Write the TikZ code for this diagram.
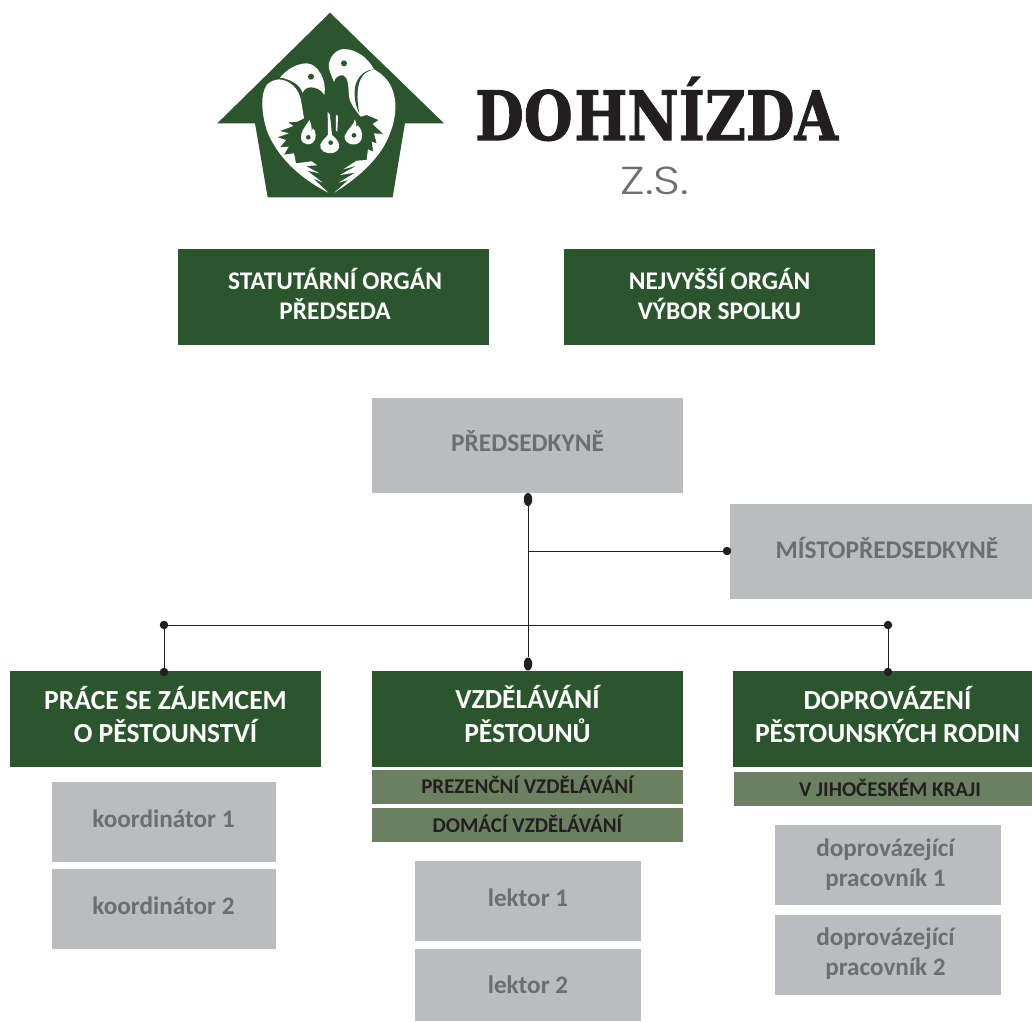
\documentclass[tikz,border=0pt]{standalone}
\usepackage{fontspec}
\setmainfont{Carlito}
\newfontfamily\slab{DejaVu Serif}[BoldFeatures={FakeBold=1.6}]
\newfontfamily\thinf{Poppins Light}
\definecolor{dgreen}{HTML}{2B552D}
\definecolor{mgreen}{HTML}{6B8060}
\definecolor{lgray}{HTML}{BBBCBF}
\definecolor{tgray}{HTML}{6D6E71}
\definecolor{ink}{HTML}{231F20}
\usetikzlibrary{shapes.geometric}
\newcommand\lifted[2]{\raisebox{#1}[\height][\depth]{\begin{tabular}{@{}c@{}}#2\end{tabular}}}
\tikzset{
 boxbase/.style={rectangle,inner sep=0pt,align=center,font=\bfseries\fontsize{25.4}{30}\selectfont},
 greenbox/.style={boxbase,fill=dgreen,text=white,minimum height=96pt,minimum width=311pt},
 headbox/.style={greenbox,font=\bfseries\fontsize{27.6}{33}\selectfont},
 graybox/.style={boxbase,fill=lgray,text=tgray,minimum height=95pt,minimum width=311pt},
 staffbox/.style={boxbase,fill=lgray,text=tgray,minimum height=80pt,minimum width=224pt,font=\bfseries\fontsize{25.2}{30}\selectfont},
 subbar/.style={boxbase,fill=mgreen,text=ink,minimum height=34pt,minimum width=311pt,font=\bfseries\fontsize{21}{24}\selectfont},
 dotn/.style={circle,fill=ink,inner sep=0pt,minimum size=8.5pt},
 dotv/.style={ellipse,fill=ink,inner sep=0pt,minimum width=8.5pt,minimum height=13pt},
 link/.style={draw=ink,line width=0.9pt},
}
\begin{document}
\begin{tikzpicture}[x=1pt,y=-1pt]
\useasboundingbox (0,0) rectangle (1032,1021);
% logo
\begin{scope}[shift={(200,0)},x=0.3333pt,y=-0.3333pt]
\fill[dgreen] (390,38) -- (732,370) -- (615,370) -- (578,592) -- (203,592) -- (165,370) -- (52,370) -- cycle;
% left head
\fill[white] (240,233) .. controls (262,205) and (295,190) .. (320,190)
 .. controls (352,190) and (382,240) .. (373,285)
 .. controls (365,268) and (345,262) .. (332,262)
 .. controls (322,262) and (312,268) .. (308,278)
 .. controls (300,255) and (275,238) .. (240,233) -- cycle;
% left lobe
\fill[white] (385,578) .. controls (300,535) and (230,470) .. (200,390)
 .. controls (185,340) and (180,285) .. (200,255)
 .. controls (210,244) and (225,239) .. (238,238)
 .. controls (272,242) and (295,265) .. (303,300)
 -- (312,355) -- (292,365) -- (264,367) -- (280,378) -- (240,393) -- (266,400) -- (232,412) -- (258,420) -- (240,442) -- (266,440) -- (252,464) -- (282,460) -- (288,490)
 -- (335,484) -- (352,496) -- (318,498) -- (358,520) -- (322,512) -- (368,548) -- (338,534) -- cycle;
% right bird and lobe
\fill[white] (403,578) .. controls (480,530) and (545,470) .. (570,400)
 .. controls (590,350) and (595,290) .. (565,245)
 .. controls (550,225) and (535,215) .. (522,208)
 .. controls (505,175) and (470,147) .. (430,147)
 .. controls (400,150) and (380,185) .. (388,210)
 -- (402,246)
 .. controls (405,232) and (418,224) .. (430,226)
 .. controls (445,230) and (445,262) .. (447,290)
 .. controls (452,315) and (468,332) .. (482,350)
 -- (500,345) -- (536,360) -- (518,372) -- (550,402) -- (522,400) -- (530,430) -- (515,425) -- (520,455) -- (504,448) -- (500,480)
 -- (470,482) -- (430,508) -- (470,497) -- (420,525) -- (466,518) -- (416,548) -- (445,540) -- cycle;
\fill[dgreen] (522,208) .. controls (488,210) and (462,240) .. (464,280) .. controls (464,305) and (470,325) .. (478,340) .. controls (470,300) and (468,250) .. (490,225) .. controls (498,216) and (510,211) .. (522,208) -- cycle;
% chicks
\fill[white] (328,360) .. controls (320,375) and (300,395) .. (303,415) .. controls (306,438) and (340,440) .. (346,415) .. controls (350,400) and (342,385) .. (338,385) -- (335,398) .. controls (335,385) and (335,372) .. (328,360) -- cycle;
\fill[white] (383,335) -- (390,345) -- (396,405) .. controls (415,420) and (425,440) .. (412,452) .. controls (400,465) and (370,462) .. (362,445) .. controls (355,430) and (375,415) .. (384,405) -- cycle;
\fill[white] (408,345) -- (414,348) -- (412,395) -- (408,392) -- cycle;
\fill[white] (465,358) .. controls (462,375) and (440,390) .. (434,408) .. controls (430,432) and (470,445) .. (484,420) .. controls (492,400) and (480,380) .. (472,376) -- (468,384) .. controls (470,375) and (468,365) .. (465,358) -- cycle;
\fill[dgreen] (333,230) circle (9);
\fill[dgreen] (432,190) circle (9);
\fill[dgreen] (325,412) circle (7);
\fill[dgreen] (392,428) circle (7);
\fill[dgreen] (462,406) circle (7);
\end{scope}
% title
\node[anchor=west,inner sep=0pt,text=ink] (title) at (475,109) {\scalebox{0.825}[1]{\slab\bfseries\fontsize{68}{70}\selectfont\spaceskip=0.03em DO HNÍZDA}};
\node[inner sep=0pt,text=tgray] (zs) at (655,181) {\scalebox{1.2}[1]{\thinf\fontsize{39}{42}\selectfont Z.S.}};
% top boxes
\node[greenbox] (stat) at (333.5,296.5) {\hspace*{3pt}\lifted{-2pt}{STATUTÁRNÍ ORGÁN\\PŘEDSEDA}};
\node[greenbox] (nejv) at (719.5,296.5) {\lifted{-2pt}{NEJVYŠŠÍ ORGÁN\\VÝBOR SPOLKU}};
\node[graybox] (pred) at (527.5,445.5) {\lifted{0pt}{PŘEDSEDKYNĚ}};
\node[graybox,minimum width=302pt] (mist) at (881,551.5) {\hspace*{12pt}\lifted{-1pt}{MÍSTOPŘEDSEDKYNĚ}};
% head boxes
\node[headbox] (prace) at (165.5,719) {\lifted{0pt}{PRÁCE SE ZÁJEMCEM\\O PĚSTOUNSTVÍ}};
\node[headbox] (vzd) at (527.5,719) {\lifted{0pt}{VZDĚLÁVÁNÍ\\PĚSTOUNŮ}};
\node[headbox,minimum width=299pt] (dopr) at (882.5,719) {\hspace*{10pt}\lifted{0pt}{DOPROVÁZENÍ\\PĚSTOUNSKÝCH RODIN}};
% sub bars
\node[subbar] (prez) at (527.5,787) {\lifted{-1pt}{PREZENČNÍ VZDĚLÁVÁNÍ}};
\node[subbar] (dom) at (527.5,825) {\lifted{-2pt}{DOMÁCÍ VZDĚLÁVÁNÍ}};
\node[subbar,minimum width=298pt] (jih) at (883,789) {\hspace*{14pt}\lifted{-2pt}{V JIHOČESKÉM KRAJI}};
% staff
\node[staffbox] (k1) at (163.5,822) {\lifted{1pt}{koordinátor 1}};
\node[staffbox] (k2) at (163.5,909) {\lifted{1pt}{koordinátor 2}};
\node[staffbox,minimum width=226pt] (l1) at (528,901) {\lifted{1pt}{lektor 1}};
\node[staffbox,minimum width=226pt,minimum height=72pt] (l2) at (528,985) {lektor 2};
\node[staffbox,minimum width=226pt] (d1) at (888,865) {\hspace*{-5pt}\lifted{0pt}{doprovázející\\pracovník 1}};
\node[staffbox,minimum width=226pt] (d2) at (888,955) {\hspace*{-5pt}\lifted{1pt}{doprovázející\\pracovník 2}};
% dots
\node[dotv] (a) at (528,499.5) {};
\node[dotv] (b) at (528,664) {};
\coordinate (c) at (528,551);
\node[dotn] (e) at (727,551) {};
\node[dotn] (f) at (164,625) {};
\node[dotn] (g) at (888,625) {};
\node[dotn] (h) at (164,672) {};
\node[dotn] (i) at (888,672) {};
\draw[link] (a) -- (b);
\draw[link] (c) -- (e);
\draw[link] (f) -- (g);
\draw[link] (f) -- (h);
\draw[link] (g) -- (i);
\end{tikzpicture}
\end{document}
